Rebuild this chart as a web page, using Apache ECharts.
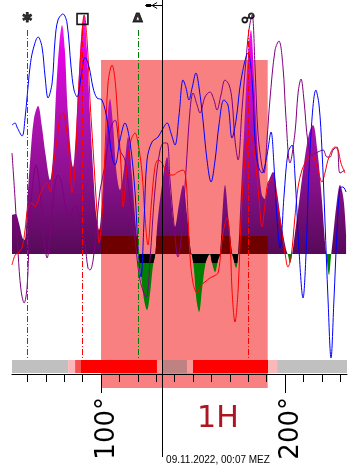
<!DOCTYPE html>
<html>
<head>
<meta charset="utf-8">
<script src="https://cdn.jsdelivr.net/npm/echarts@6/dist/echarts.min.js"></script>
<style>
  html, body { margin: 0; padding: 0; background: #fff; }
  #chart { width: 349px; height: 469px; }
</style>
</head>
<body>
<div id="chart"></div>
<script>
// ---- data ---------------------------------------------------------------
// Zodiac span shown on the horizontal axis (degrees)
const degMin = 51.6;
const degMax = 233.7;

// Axis ticks and labelled degrees
const tickDegrees = [60, 70, 80, 90, 100, 110, 120, 130, 140, 150, 160, 170, 180, 190, 200, 210, 220, 230];
const labelDegrees = [100, 200];

// House 1 span and the current position marker
const houseStart = 100;
const houseEnd = 190.6;
const houseLabel = '1H';
const nowDegree = 133.2;
const dateText = '09.11.2022, 00:07 MEZ';

// Aspect positions (sextile, square, trine, opposition)
const aspectDegrees = [60, 90, 120, 180];
const aspectGlyphs = ['\u2731', '\u25A1', '\u0394', '\u260D'];
const aspectKinds = ['soft', 'hard', 'soft', 'hard'];

// Combined strength curve (filled): [degree, value]
const strengthArea = [
  [51.6, 39], [53.5, 40], [55.5, 30], [57.3, 16], [58.5, 14], [59.8, 50], [61.5, 95], [63.5, 135],
  [65.8, 148], [67.8, 128], [69.8, 100], [72.3, 74], [74.0, 100], [75.5, 160], [77.3, 210], [78.8, 229],
  [80.3, 205], [82.0, 140], [84.8, 87], [86.3, 120], [88.0, 180], [89.5, 225], [90.8, 239], [92.3, 205],
  [94.0, 140], [95.8, 80], [97.3, 40], [98.9, 24], [100.5, 50], [102.5, 110], [104.9, 155], [106.5, 130],
  [108.2, 85], [110.3, 64], [112.5, 85], [114.7, 117], [116.7, 80], [118.8, 30], [120.4, 0], [121.7, -20],
  [123.3, -45], [125.0, -56], [126.6, -40], [128.2, -12], [129.5, 0], [130.6, 30], [133.2, 70], [135.9, 97],
  [137.8, 60], [140.2, 27], [142.4, 50], [144.6, 69], [146.7, 40], [148.7, 3], [149.5, -2], [150.5, -15],
  [151.8, -45], [153.3, -58], [154.9, -35], [156.7, -10], [158.2, -2], [159.2, 0], [160.2, -8], [162.0, -18],
  [163.6, -6], [164.7, 0], [165.5, 25], [167.4, 69], [169.3, 35], [171.0, 3], [172.0, -5], [173.4, -14],
  [174.5, -2], [175.5, 40], [177.7, 120], [179.9, 200], [181.5, 224], [183.2, 175], [185.3, 100], [187.3, 60],
  [189.0, 55], [191.0, 72], [193.5, 82], [195.8, 60], [198.0, 30], [200.5, 5], [201.6, -1], [202.7, -9],
  [203.8, -1], [205.0, 15], [207.5, 50], [210.3, 90], [213.0, 120], [215.2, 129], [217.5, 105], [219.8, 60],
  [221.8, 10], [222.5, -2], [223.9, -21], [225.0, -2], [226.0, 15], [228.0, 50], [229.9, 69], [231.8, 55],
  [233.2, 20]
];

// Individual curves: [degree, value]
const blueLine = [
  [51.6, 129], [53.3, 131], [54.3, 127], [57.1, 118], [58.7, 136], [59.8, 157], [61.4, 187], [63.0, 204],
  [65.8, 217], [67.9, 207], [69.6, 177], [71.2, 156], [73.4, 171], [75.0, 214], [76.6, 234], [79.3, 240],
  [81.5, 231], [83.7, 187], [85.3, 164], [87.0, 157], [89.1, 177], [91.3, 197], [93.5, 187], [95.7, 166],
  [97.8, 156], [100.5, 154], [103.3, 134], [106.0, 97], [107.6, 89], [110.3, 114], [113.0, 131], [115.8, 111],
  [118.5, 61], [120.1, 7], [121.7, -23], [123.4, 34], [125.0, 94], [127.7, 112], [131.0, 117], [133.2, 124],
  [135.9, 131], [138.0, 121], [140.2, 109], [142.4, 139], [144.6, 174], [146.2, 166], [147.8, 154], [149.5, 166],
  [151.6, 181], [153.3, 166], [155.4, 134], [157.6, 94], [159.8, 72], [162.0, 94], [164.1, 129], [166.8, 154],
  [169.0, 149], [171.2, 116], [173.4, 134], [176.1, 174], [179.9, 201], [182.1, 174], [183.7, 114], [185.3, 89],
  [187.5, 81], [190.2, 99], [192.4, 122], [194.0, 89], [195.7, 34], [197.3, 6], [199.5, 59], [201.6, 101],
  [203.8, 109], [205.4, 79], [207.6, 4], [209.8, -44], [211.4, -1], [213.6, 104], [216.8, 164], [218.5, 149],
  [220.1, 104], [221.7, 34], [223.4, -46], [225.0, -104], [226.6, -46], [228.3, 24], [229.9, 66], [231.5, 67],
  [233.2, 62]
];

const redLine = [
  [51.6, -11], [53.3, -1], [54.9, 1], [57.1, 7], [58.7, 24], [60.3, 47], [62.5, 51], [64.1, 47],
  [65.8, 54], [68.5, 67], [70.7, 71], [72.3, 62], [73.9, 87], [76.1, 114], [77.7, 137], [79.3, 141],
  [81.5, 121], [83.2, 87], [84.2, 61], [85.9, 87], [87.5, 154], [89.7, 221], [90.8, 239], [92.4, 214],
  [94.0, 154], [95.7, 104], [97.8, 41], [98.9, 11], [100.5, 37], [102.2, 104], [103.8, 171], [106.0, 189],
  [107.6, 174], [109.2, 134], [110.9, 87], [112.0, 47], [114.1, 87], [116.3, 114], [118.5, 121], [120.1, 111],
  [122.3, 81], [123.9, 37], [125.5, 9], [127.2, 47], [129.3, 87], [131.0, 94], [133.2, 91], [134.8, 84],
  [136.4, 79], [139.1, 79], [141.8, 82], [144.6, 84], [146.2, 74], [147.3, 37], [148.4, -3], [150.0, -29],
  [152.2, -39], [154.3, -31], [156.5, -28], [159.2, -24], [161.4, -22], [163.6, -19], [165.2, 4], [166.3, 21],
  [168.5, 36], [170.1, 14], [171.2, -36], [172.8, -68], [174.5, -36], [176.6, 54], [179.3, 111], [181.5, 119],
  [183.7, 97], [185.9, 54], [187.5, 27], [189.1, 49], [190.8, 72], [192.9, 74], [194.6, 67], [196.2, 47],
  [198.4, 21], [200.0, 1], [201.6, -13], [203.3, -3], [205.4, 37], [207.1, 67], [209.2, 84], [210.9, 91],
  [212.5, 97], [214.7, 101], [216.3, 94], [217.9, 84], [220.1, 72], [221.7, 81], [223.9, 97], [227.2, 107],
  [228.8, 104], [230.4, 91], [232.6, 81]
];

const purpleLine = [
  [51.6, 101], [53.3, 54], [54.9, 1], [56.5, -36], [58.2, -49], [59.8, -33], [60.9, 14], [62.5, 64],
  [64.7, 89], [66.8, 64], [69.0, 14], [70.7, -4], [72.3, 19], [74.5, 64], [76.6, 79], [78.8, 69],
  [81.0, 44], [83.2, 39], [85.9, 49], [88.6, 34], [91.3, 9], [92.9, -14], [94.0, -16], [95.7, -6],
  [97.3, 24], [99.5, 64], [102.2, 89], [104.9, 124], [107.6, 134], [110.3, 104], [113.0, 94], [115.8, 54],
  [118.5, 14], [121.2, -26], [124.5, -43], [126.6, -6], [129.3, 64], [132.1, 104], [134.2, 111], [135.9, 111],
  [137.5, 74], [139.7, 29], [141.8, -3], [144.0, 24], [146.2, 84], [148.4, 144], [150.0, 161], [152.2, 149],
  [153.8, 141], [156.5, 157], [159.2, 162], [161.4, 154], [163.0, 144], [165.2, 159], [167.4, 174], [169.6, 169],
  [171.2, 154], [172.8, 114], [174.5, 94], [176.6, 144], [178.8, 194], [180.4, 224], [182.1, 239], [183.7, 187],
  [185.3, 121], [187.5, 87], [188.6, 81], [190.2, 114], [191.8, 154], [194.6, 204], [196.7, 213], [198.9, 187],
  [200.5, 137], [202.7, 91], [205.4, 121], [207.1, 161], [208.7, 175], [210.3, 154], [212.5, 111], [214.7, 99],
  [217.9, 102], [220.7, 104], [222.8, 97], [224.5, 97], [226.1, 104], [228.3, 107], [229.9, 81], [232.6, 84]
];

// Activity strip along the axis: segment bounds and intensity kind
const stripStarts = [51.6, 82.1, 85.9, 89.1, 130.4, 133.7, 146.7, 150.0, 190.8, 195.7];
const stripEnds   = [82.1, 85.9, 89.1, 130.4, 133.7, 146.7, 150.0, 190.8, 195.7, 233.7];
const stripKinds  = ['off', 'fade', 'rise', 'on', 'edge', 'muted', 'edge', 'on', 'fade', 'off'];

// ---- layout & styles ----------------------------------------------------
const W = 349, H = 469;
const grid = { left: 12, right: 2, top: 0, bottom: 12 };
const yMin = -203, yMax = 254;
const gridH = H - grid.top - grid.bottom;
const gridW = W - grid.left - grid.right;
const axisLineY = 374;
const stripTop = -106, stripBottom = -119;
const houseTop = 194, houseBottom = -134;
const aspectTop = 224, aspectBottom = -106;
const glyphLevel = 235;
const bandTop = 18, bandBottom = -8.5;

const stripColors = {
  off: '#c0c0c0', fade: '#fcb8b8', rise: '#f65050', on: '#ff0000',
  edge: '#fb9898', muted: '#bf8282'
};
const aspectColors = { soft: '#008000', hard: '#ff0000' };
const glyphSizes = [13, 15, 13, 14];

const yPx = v => grid.top + (yMax - v) * gridH / (yMax - yMin);
const xPx = d => grid.left + (d - degMin) * gridW / (degMax - degMin);
const stop = (v, color) => ({ offset: Math.min(1, Math.max(0, yPx(v) / gridH)), color });

const areaGradient = new echarts.graphic.LinearGradient(0, grid.top, 0, grid.top + gridH, [
  stop(254, '#ff30ff'),
  stop(200, '#e400e4'),
  stop(140, '#b212b4'),
  stop(70, '#86108a'),
  stop(0.01, '#560a58'),
  stop(0, '#008000'),
  stop(yMin, '#008000')
], true);

const bandGradient = new echarts.graphic.LinearGradient(0, grid.top, 0, grid.top + gridH, [
  stop(bandTop + 0.01, 'rgba(0,0,0,0)'),
  stop(bandTop, '#6e0000'),
  stop(0.01, '#6e0000'),
  stop(0, '#000000'),
  stop(bandBottom, '#000000'),
  stop(bandBottom - 0.01, 'rgba(0,0,0,0)')
], true);

// Part of the strength curve that lies inside the house span
function valueAt(points, d) {
  for (let i = 1; i < points.length; i++) {
    const a = points[i - 1], b = points[i];
    if (d >= a[0] && d <= b[0]) {
      return a[1] + (b[1] - a[1]) * (d - a[0]) / (b[0] - a[0]);
    }
  }
  return 0;
}
const bandData = [[houseStart, 0], [houseStart, valueAt(strengthArea, houseStart)]]
  .concat(strengthArea.filter(p => p[0] > houseStart && p[0] < houseEnd))
  .concat([[houseEnd, valueAt(strengthArea, houseEnd)], [houseEnd, 0]]);

const lineSeries = (name, data, color, z) => ({
  name, type: 'line', data, smooth: 0.35, symbol: 'none', z,
  lineStyle: { color, width: 1 }, silent: true
});

const chart = echarts.init(document.getElementById('chart'), null, { renderer: 'canvas', width: W, height: H });

chart.setOption({
  animation: false,
  backgroundColor: '#ffffff',
  grid: Object.assign({ containLabel: false }, grid),
  xAxis: [
    {
      type: 'value', min: degMin, max: degMax, position: 'bottom', offset: axisLineY - (H - grid.bottom),
      axisLine: { show: true, onZero: false, lineStyle: { color: '#000', width: 1 } },
      axisTick: { show: true, customValues: tickDegrees, length: 8, lineStyle: { color: '#000', width: 1 } },
      axisLabel: { show: false },
      splitLine: { show: false }
    },
    {
      type: 'value', min: degMin, max: degMax, position: 'bottom', offset: axisLineY - (H - grid.bottom),
      axisLine: { show: false, onZero: false },
      axisTick: { show: true, customValues: labelDegrees, length: 19, lineStyle: { color: '#000', width: 1 } },
      axisLabel: {
        show: true, customValues: labelDegrees, formatter: '{value}°', rotate: 90, margin: 23,
        fontSize: 26, fontFamily: 'DejaVu Sans', color: '#000',
        verticalAlign: 'top', lineHeight: 12
      },
      splitLine: { show: false }
    }
  ],
  yAxis: { type: 'value', min: yMin, max: yMax, show: false },
  series: [
    {
      name: 'house', type: 'line', data: [], silent: true, z: 0,
      markArea: {
        silent: true, z: 0,
        label: { show: false },
        itemStyle: { color: '#f98080', opacity: 1 },
        data: [[{ xAxis: houseStart, yAxis: houseTop }, { xAxis: houseEnd, yAxis: houseBottom }]]
      }
    },
    {
      name: 'strength', type: 'line', data: strengthArea, smooth: 0.35, symbol: 'none', z: 2, silent: true,
      lineStyle: { width: 0 },
      areaStyle: { color: areaGradient, opacity: 1 }
    },
    {
      name: 'house band', type: 'line', data: bandData, smooth: 0.35, symbol: 'none', z: 3, silent: true,
      lineStyle: { width: 0 },
      areaStyle: { color: bandGradient, opacity: 1 }
    },
    lineSeries('purple', purpleLine, '#800080', 4),
    lineSeries('red', redLine, '#ff0000', 5),
    lineSeries('blue', blueLine, '#0000ff', 6),
    {
      name: 'strip', type: 'line', data: [], silent: true, z: 7,
      markArea: {
        silent: true, z: 7,
        label: { show: false },
        data: stripStarts.map((s, i) => [
          { xAxis: s, yAxis: stripTop, itemStyle: { color: stripColors[stripKinds[i]], opacity: 1 } },
          { xAxis: stripEnds[i], yAxis: stripBottom }
        ])
      }
    },
    {
      name: 'aspects', type: 'line', data: [], silent: true, z: 8,
      markLine: {
        silent: true, symbol: 'none', z: 8,
        label: { show: false },
        data: aspectDegrees.map((d, i) => [
          { coord: [d, aspectTop], lineStyle: { color: aspectColors[aspectKinds[i]], width: 1, type: [6, 2, 1, 2] } },
          { coord: [d, aspectBottom] }
        ]).concat([[
          { coord: [nowDegree, yMax], lineStyle: { color: '#000', width: 1, type: 'solid' } },
          { coord: [nowDegree, yMin] }
        ]])
      }
    },
    {
      name: 'glyphs', type: 'scatter', z: 9, silent: true,
      data: aspectDegrees.map((d, i) => ({
        value: [d, glyphLevel],
        label: { fontSize: glyphSizes[i] }
      })),
      symbolSize: 1, itemStyle: { color: 'rgba(0,0,0,0)' },
      label: {
        show: true, position: 'inside', color: '#000', fontWeight: 'bold',
        fontFamily: 'DejaVu Sans', textBorderColor: '#000', textBorderWidth: 0.8,
        formatter: p => aspectGlyphs[p.dataIndex]
      }
    }
  ],
  graphic: [
    {
      type: 'text', left: xPx(162) - 18, top: 404, z: 20, silent: true,
      style: { text: houseLabel, fontSize: 30, fontFamily: 'DejaVu Sans', fill: '#ad1620' }
    },
    {
      type: 'text', left: xPx(nowDegree) + 4, top: 455, z: 20, silent: true,
      style: { text: dateText, fontSize: 10, fontFamily: 'Liberation Sans', fill: '#000' }
    },
    {
      type: 'group', z: 20, silent: true,
      children: [
        { type: 'line', shape: { x1: xPx(nowDegree) - 17, y1: 5.5, x2: xPx(nowDegree), y2: 5.5 }, style: { stroke: '#000', lineWidth: 1 } },
        { type: 'rect', shape: { x: xPx(nowDegree) - 16, y: 4, width: 5, height: 3 }, style: { fill: '#000' } },
        { type: 'line', shape: { x1: xPx(nowDegree) - 10, y1: 5.5, x2: xPx(nowDegree) - 5, y2: 2.5 }, style: { stroke: '#000', lineWidth: 1 } },
        { type: 'line', shape: { x1: xPx(nowDegree) - 10, y1: 5.5, x2: xPx(nowDegree) - 5, y2: 8.5 }, style: { stroke: '#000', lineWidth: 1 } }
      ]
    }
  ]
});
</script>
</body>
</html>
